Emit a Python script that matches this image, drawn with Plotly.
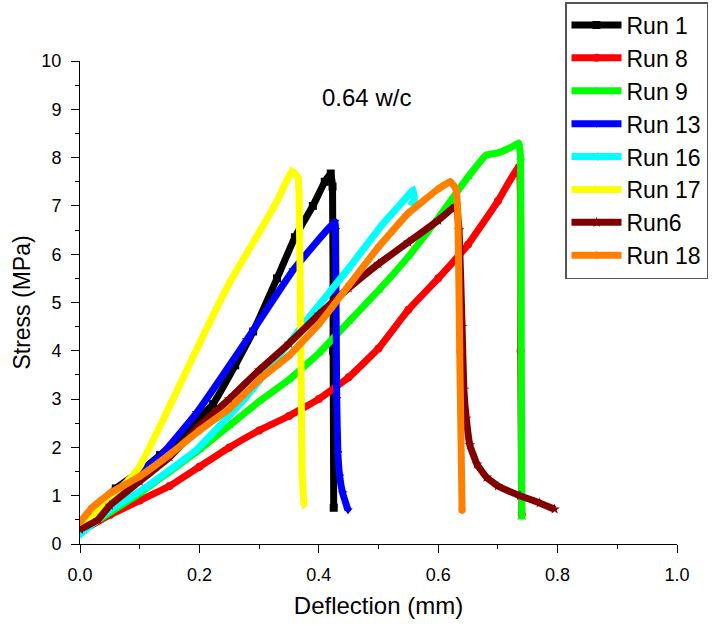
import plotly.graph_objects as go

run1_x = [0.0, 0.03, 0.06, 0.1, 0.134, 0.18, 0.223, 0.26, 0.29, 0.33, 0.36, 0.39, 0.41, 0.42, 0.423, 0.424, 0.425]
run1_y = [0.3, 0.75, 1.15, 1.5, 1.84, 2.35, 2.9, 3.7, 4.4, 5.5, 6.35, 7.0, 7.5, 7.67, 7.4, 4.0, 0.75]

run8_x = [0.0, 0.05, 0.1, 0.15, 0.2, 0.25, 0.3, 0.35, 0.4, 0.45, 0.5, 0.55, 0.6, 0.65, 0.7, 0.735, 0.738, 0.74]
run8_y = [0.25, 0.6, 0.9, 1.2, 1.6, 2.0, 2.35, 2.65, 3.0, 3.45, 4.05, 4.85, 5.5, 6.2, 7.1, 7.8, 4.0, 0.6]

run9_x = [0.0, 0.05, 0.1, 0.15, 0.2, 0.25, 0.3, 0.35, 0.4, 0.45, 0.5, 0.55, 0.6, 0.65, 0.68, 0.7, 0.72, 0.735, 0.738, 0.74]
run9_y = [0.25, 0.65, 1.05, 1.5, 1.95, 2.45, 2.95, 3.4, 3.95, 4.6, 5.25, 5.95, 6.75, 7.6, 8.05, 8.1, 8.2, 8.3, 8.0, 0.55]

run13_x = [0.0, 0.06, 0.1, 0.134, 0.195, 0.279, 0.357, 0.427, 0.428, 0.43, 0.432, 0.435, 0.44, 0.449]
run13_y = [0.3, 1.1, 1.5, 1.81, 2.71, 4.22, 5.67, 6.67, 6.5, 3.0, 1.88, 1.4, 1.05, 0.7]

run16_x = [0.0, 0.05, 0.112, 0.195, 0.279, 0.385, 0.452, 0.508, 0.545, 0.558, 0.56, 0.555]
run16_y = [0.2, 0.7, 1.19, 1.95, 3.05, 4.71, 5.74, 6.64, 7.15, 7.33, 7.1, 7.05]

run17_x = [0.0, 0.05, 0.08, 0.1, 0.15, 0.2, 0.25, 0.3, 0.33, 0.355, 0.365, 0.367, 0.37, 0.372, 0.375]
run17_y = [0.3, 0.95, 1.3, 1.6, 2.85, 4.15, 5.4, 6.45, 7.1, 7.72, 7.6, 7.2, 4.0, 1.5, 0.8]

run6_x = [0.0, 0.03, 0.05, 0.1, 0.15, 0.2, 0.25, 0.3, 0.35, 0.4, 0.45, 0.5, 0.55, 0.6, 0.63,
          0.635, 0.64, 0.643, 0.647, 0.653, 0.665, 0.681, 0.7, 0.737, 0.77, 0.795]
run6_y = [0.3, 0.5, 0.8, 1.3, 1.8, 2.45, 3.0, 3.6, 4.15, 4.75, 5.3, 5.8, 6.25, 6.7, 7.0,
          6.5, 4.5, 3.2, 2.6, 2.05, 1.65, 1.38, 1.2, 1.0, 0.85, 0.72]

run18_x = [0.0, 0.02, 0.05, 0.1, 0.15, 0.2, 0.25, 0.3, 0.35, 0.4, 0.45, 0.5, 0.55, 0.6, 0.62, 0.63, 0.633, 0.636, 0.64]
run18_y = [0.45, 0.75, 1.05, 1.4, 1.85, 2.35, 2.8, 3.4, 3.9, 4.55, 5.35, 6.15, 6.85, 7.35, 7.5, 7.35, 6.8, 4.0, 0.7]

series = [
    ("Run 1", run1_x, run1_y, "#000000", "square"),
    ("Run 8", run8_x, run8_y, "#FF0000", "circle"),
    ("Run 9", run9_x, run9_y, "#00FF00", "triangle-up"),
    ("Run 13", run13_x, run13_y, "#0000FF", "triangle-down"),
    ("Run 16", run16_x, run16_y, "#00FFFF", "triangle-left"),
    ("Run 17", run17_x, run17_y, "#FFFF00", "triangle-right"),
    ("Run6", run6_x, run6_y, "#800000", "star"),
    ("Run 18", run18_x, run18_y, "#FF8000", "hexagon"),
]

fig = go.Figure()
for name, xs, ys, col, sym in series:
    fig.add_trace(go.Scatter(
        x=xs, y=ys, name=name, mode="lines+markers",
        line=dict(color=col, width=7, shape="spline", smoothing=0.3),
        marker=dict(color=col, symbol=sym, size=8),
    ))

font = "Liberation Sans, Arial, sans-serif"
fig.update_layout(
    width=720, height=626,
    margin=dict(l=80, r=43, t=61, b=82, autoexpand=False),
    paper_bgcolor="white", plot_bgcolor="white",
    font=dict(family=font, size=18, color="black"),
    showlegend=True,
    legend=dict(
        xref="container", yref="container",
        x=565 / 720, y=1 - 2 / 626, xanchor="left", yanchor="top",
        bordercolor="#555555", borderwidth=1.5, bgcolor="white",
        font=dict(family=font, size=23, color="black"),
        tracegroupgap=0, itemwidth=50,
    ),
    xaxis=dict(
        range=[0, 1.0], tickvals=[0, 0.2, 0.4, 0.6, 0.8, 1.0],
        ticktext=["0.0", "0.2", "0.4", "0.6", "0.8", "1.0"],
        showline=True, linecolor="black", linewidth=1,
        ticks="outside", ticklen=8, tickcolor="black", showgrid=False, zeroline=False,
        minor=dict(dtick=0.1, ticks="outside", ticklen=4, tickcolor="black", showgrid=False),
        tickfont=dict(size=18), ticklabelstandoff=6,
        title=dict(text="Deflection (mm)", font=dict(size=24), standoff=13),
    ),
    yaxis=dict(
        range=[0, 10], dtick=1,
        showline=True, linecolor="black", linewidth=1,
        ticks="outside", ticklen=8, tickcolor="black", showgrid=False, zeroline=False,
        minor=dict(dtick=0.5, ticks="outside", ticklen=4, tickcolor="black", showgrid=False),
        tickfont=dict(size=18), ticklabelstandoff=6,
        title=dict(text="Stress (MPa)", font=dict(size=23), standoff=4),
    ),
    annotations=[
        dict(text="0.64 w/c", x=0.48, y=9.25, xref="x", yref="y", showarrow=False,
             font=dict(size=24)),
    ],
)

fig.write_html("out.html")
